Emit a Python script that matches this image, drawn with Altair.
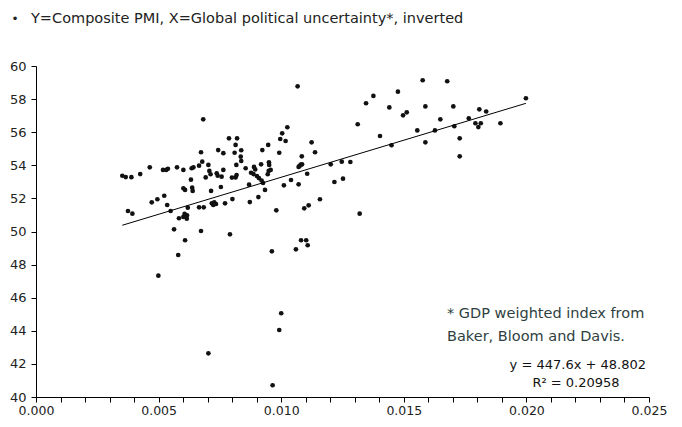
import altair as alt
import pandas as pd

# Global political uncertainty (inverted) vs Composite PMI
x_vals = [
    0.00352, 0.00366, 0.00389, 0.00425, 0.00464, 0.00518, 0.00531, 0.00538,
    0.00375, 0.00393, 0.00472, 0.00495, 0.00523, 0.00535, 0.00549, 0.00563,
    0.00499, 0.00575, 0.00601, 0.00635, 0.00642, 0.00665, 0.00678, 0.00673,
    0.00682, 0.00703, 0.00707, 0.00712, 0.00692, 0.00743, 0.00764, 0.00737,
    0.00741, 0.00757, 0.00764, 0.00632, 0.00601, 0.00608, 0.00637, 0.00639,
    0.00714, 0.00754, 0.00787, 0.00820, 0.00814, 0.00837, 0.00835, 0.00837,
    0.00810, 0.00817, 0.00855, 0.00799, 0.00814, 0.00818, 0.00889, 0.00894,
    0.00877, 0.00887, 0.00901, 0.00909, 0.00920, 0.00926, 0.00923, 0.00947,
    0.00619, 0.00583, 0.00601, 0.00606, 0.00616, 0.00615, 0.00665, 0.00684,
    0.00717, 0.00727, 0.00734, 0.00723, 0.00771, 0.00801, 0.00872, 0.00907,
    0.00673, 0.00791, 0.00608, 0.00580, 0.00703, 0.00934, 0.00869, 0.00996,
    0.01004, 0.01018, 0.01025, 0.00992, 0.01124, 0.01138, 0.00918, 0.00950,
    0.00951, 0.00949, 0.00957, 0.00945, 0.01084, 0.01071, 0.01075, 0.01080,
    0.01085, 0.01106, 0.01040, 0.01011, 0.01071, 0.01202, 0.01247, 0.01282,
    0.01217, 0.01252, 0.01158, 0.01112, 0.01094, 0.00980, 0.00962, 0.01081,
    0.01102, 0.01108, 0.01060, 0.00965, 0.00992, 0.01000, 0.01067, 0.01312,
    0.01346, 0.01376, 0.01403, 0.01441, 0.01450, 0.01476, 0.01320, 0.01497,
    0.01512, 0.01555, 0.01577, 0.01588, 0.01588, 0.01627, 0.01649, 0.01677,
    0.01702, 0.01706, 0.01728, 0.01728, 0.01765, 0.01792, 0.01804, 0.01814,
    0.01808, 0.01836, 0.01894, 0.01998,
]
y_vals = [
    53.37, 53.29, 53.28, 53.47, 53.88, 53.72, 53.72, 53.79,
    51.24, 51.08, 51.76, 51.95, 52.16, 51.60, 51.24, 50.13,
    47.33, 53.88, 53.72, 53.82, 53.88, 53.98, 54.22, 54.79,
    56.78, 54.02, 53.66, 53.46, 53.27, 54.92, 54.73, 53.52,
    53.37, 53.31, 53.72, 53.13, 52.61, 52.51, 52.65, 52.45,
    52.45, 52.69, 55.63, 55.63, 55.23, 54.91, 54.52, 54.26,
    54.76, 54.02, 53.82, 53.26, 53.27, 53.41, 53.90, 53.75,
    53.55, 53.47, 53.35, 53.23, 53.08, 52.93, 54.92, 55.23,
    51.44, 50.80, 50.88, 51.06, 50.97, 50.77, 51.46, 51.46,
    51.70, 51.76, 51.66, 51.60, 51.70, 51.96, 51.78, 52.08,
    50.03, 49.83, 49.47, 48.58, 42.64, 52.51, 52.83, 55.59,
    55.93, 55.47, 56.30, 54.76, 55.39, 54.79, 54.06, 54.18,
    54.02, 53.66, 53.72, 53.46, 54.54, 53.90, 53.96, 54.04,
    54.06, 53.49, 53.11, 52.79, 52.85, 54.06, 54.22, 54.20,
    52.99, 53.19, 51.95, 51.58, 51.40, 51.28, 48.80, 49.47,
    49.47, 49.17, 48.92, 40.71, 44.05, 45.06, 58.77, 56.48,
    57.75, 58.19, 55.77, 57.50, 55.21, 58.45, 51.08, 57.02,
    57.20, 56.11, 59.14, 57.56, 55.39, 56.11, 56.78, 59.08,
    57.56, 56.36, 55.63, 54.54, 56.84, 56.54, 56.31, 56.54,
    57.38, 57.25, 56.54, 58.05,
]

slope = 447.6
intercept = 48.802

x_ticks = [0.000, 0.001, 0.002, 0.003, 0.004, 0.005, 0.006, 0.007, 0.008, 0.009,
           0.010, 0.011, 0.012, 0.013, 0.014, 0.015, 0.016, 0.017, 0.018, 0.019,
           0.020, 0.021, 0.022, 0.023, 0.024, 0.025]
y_ticks = [40, 42, 44, 46, 48, 50, 52, 54, 56, 58, 60]

title_bullet = "•"
title_text = "Y=Composite PMI, X=Global political uncertainty*, inverted"
note_lines = ["* GDP weighted index from", "Baker, Bloom and Davis."]
eq_text = "y = 447.6x + 48.802"
r2_text = "R² = 0.20958"

FONT = "DejaVu Sans"

pts = pd.DataFrame({"x": x_vals, "y": y_vals})
line_df = pd.DataFrame({"x": [min(x_vals), max(x_vals)]})
line_df["y"] = intercept + slope * line_df["x"]

xscale = alt.Scale(domain=[0, 0.025], nice=False, zero=False)
yscale = alt.Scale(domain=[40, 60], nice=False, zero=False)

xaxis = alt.Axis(
    values=x_ticks,
    labelExpr="round(datum.value*1000) % 5 == 0 ? format(datum.value, '.3f') : ''",
    grid=False, title=None, domainColor="#000000", tickColor="#000000",
    tickSize=5, labelFontSize=12.5, labelColor="#222222", labelFont=FONT,
    labelPadding=2, labelFlush=False, labelOverlap=False,
)
yaxis = alt.Axis(
    values=y_ticks, format="d", grid=False, title=None,
    domainColor="#000000", tickColor="#000000", tickSize=5,
    labelFontSize=13, labelColor="#222222", labelFont=FONT, labelPadding=5,
    labelOverlap=False, labelFlush=False,
)

points = alt.Chart(pts).mark_circle(size=22, color="#111111", opacity=1).encode(
    x=alt.X("x:Q", scale=xscale, axis=xaxis),
    y=alt.Y("y:Q", scale=yscale, axis=yaxis),
)

trend = alt.Chart(line_df).mark_line(color="#000000", strokeWidth=1).encode(
    x=alt.X("x:Q", scale=xscale, axis=xaxis),
    y=alt.Y("y:Q", scale=yscale, axis=yaxis),
)

def label(text, x, y, size, color, align="left"):
    return alt.Chart(pd.DataFrame({"t": [text]})).mark_text(
        align=align, baseline="middle", font=FONT, fontSize=size, color=color
    ).encode(text="t:N", x=alt.value(x), y=alt.value(y))

bullet = label(title_bullet, -21, -47, 12, "#222222", align="center")
title = label(title_text, -5, -47, 14.5, "#222222")
note1 = label(note_lines[0], 411, 248, 14.5, "#2f3f3f")
note2 = label(note_lines[1], 411, 271, 14.5, "#2f3f3f")
eq = label(eq_text, 610, 299, 13, "#111111", align="right")
r2 = label(r2_text, 540, 317, 13, "#111111", align="center")

chart = alt.layer(points, trend, bullet, title, note1, note2, eq, r2).properties(
    width=613,
    height=331,
    autosize=alt.AutoSizeParams(type="none"),
    padding={"left": 28, "top": 58, "right": 25, "bottom": 22},
).configure_view(stroke=None)

chart.save("out.html", embed_options={"renderer": "svg", "actions": False})
